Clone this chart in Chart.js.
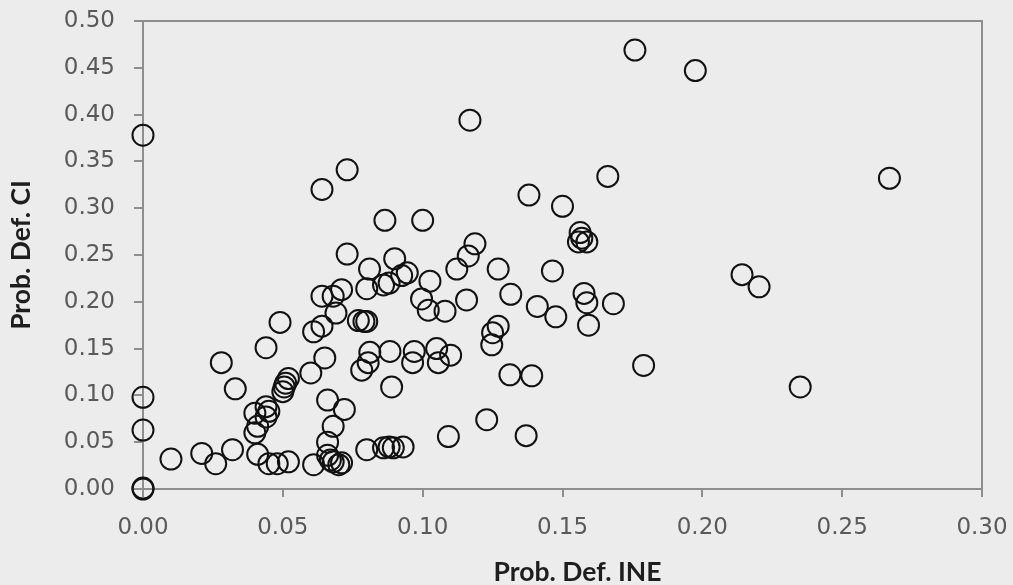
<!DOCTYPE html>
<html>
<head>
<meta charset="utf-8">
<script src="https://cdn.jsdelivr.net/npm/chart.js@4/dist/chart.umd.min.js"></script>
<style>
  html, body { margin: 0; padding: 0; background: #ececec; }
  canvas { display: block; }
</style>
</head>
<body>
<canvas id="scatter" width="1013" height="585"></canvas>
<script>
// default probability per unit: INE estimate (x) vs CI estimate (y)
const probIne = [
  0, 0, 0, 0, 0,
  0.010, 0.021, 0.026, 0.032, 0.028, 0.033, 0.044, 0.049,
  0.041, 0.040, 0.041, 0.040, 0.044, 0.045, 0.044,
  0.050, 0.0505, 0.051, 0.052, 0.045, 0.048, 0.052,
  0.060, 0.061, 0.061, 0.064, 0.064, 0.073,
  0.065, 0.066, 0.072, 0.068, 0.066, 0.066, 0.067, 0.068, 0.070, 0.071,
  0.080, 0.086, 0.088, 0.0895, 0.093,
  0.064, 0.068, 0.071, 0.069, 0.077, 0.079, 0.080,
  0.073, 0.081, 0.080, 0.086, 0.088, 0.090, 0.0925, 0.0945,
  0.0865, 0.100, 0.1026, 0.0996, 0.102, 0.108, 0.1157,
  0.1187, 0.1163, 0.1122, 0.127, 0.1315, 0.141, 0.1476, 0.1464,
  0.1577, 0.1587, 0.1682, 0.1593, 0.127, 0.125, 0.1247,
  0.138, 0.150, 0.1662, 0.1563, 0.1569, 0.1587, 0.1557,
  0.1759, 0.1975, 0.2669, 0.2142, 0.2203, 0.235, 0.179,
  0.1312, 0.139, 0.1229, 0.137, 0.1092, 0.0889,
  0.0782, 0.0805, 0.0811, 0.0883, 0.097, 0.0964, 0.105, 0.1056, 0.110,
  0.1169
];
const probCi = [
  0, 0.001, 0.063, 0.098, 0.378,
  0.032, 0.038, 0.027, 0.042, 0.135, 0.107, 0.151, 0.178,
  0.037, 0.060, 0.067, 0.081, 0.088, 0.083, 0.077,
  0.104, 0.109, 0.113, 0.118, 0.027, 0.027, 0.029,
  0.124, 0.026, 0.168, 0.174, 0.320, 0.341,
  0.140, 0.095, 0.085, 0.067, 0.050, 0.036, 0.031, 0.029, 0.026, 0.028,
  0.042, 0.044, 0.045, 0.044, 0.045,
  0.206, 0.206, 0.213, 0.188, 0.180, 0.179, 0.179,
  0.251, 0.235, 0.214, 0.218, 0.220, 0.246, 0.228, 0.231,
  0.287, 0.287, 0.222, 0.203, 0.191, 0.190, 0.202,
  0.262, 0.249, 0.235, 0.235, 0.208, 0.195, 0.184, 0.233,
  0.209, 0.199, 0.198, 0.175, 0.174, 0.167, 0.154,
  0.314, 0.302, 0.334, 0.274, 0.268, 0.264, 0.264,
  0.469, 0.447, 0.332, 0.229, 0.216, 0.109, 0.132,
  0.122, 0.121, 0.074, 0.057, 0.056, 0.109,
  0.127, 0.135, 0.146, 0.147, 0.147, 0.135, 0.150, 0.135, 0.143,
  0.394
];

const xTicks = [0, 0.05, 0.10, 0.15, 0.20, 0.25, 0.30];
const yTicks = [0, 0.05, 0.10, 0.15, 0.20, 0.25, 0.30, 0.35, 0.40, 0.45, 0.50];
const xTitle = 'Prob. Def. INE';
const yTitle = 'Prob. Def. CI';

const axisGrey = '#8e8e8e';
const tickFont = { family: 'DejaVu Sans', size: 23 };
const titleFont = { family: 'Lato', size: 26.5, weight: 'bold' };

// thin frame on top and right of the plot area, plus the x title
// (which sits a little right of the plot centre)
const frame = {
  id: 'frame',
  beforeDatasetsDraw(chart) {
    const { ctx, chartArea: a } = chart;
    ctx.save();
    ctx.strokeStyle = axisGrey;
    ctx.lineWidth = 2;
    ctx.beginPath();
    ctx.moveTo(a.left, a.top);
    ctx.lineTo(a.right, a.top);
    ctx.lineTo(a.right, a.bottom);
    ctx.stroke();
    ctx.font = `bold ${titleFont.size}px ${titleFont.family}`;
    ctx.fillStyle = '#1e1e1e';
    ctx.textAlign = 'center';
    ctx.textBaseline = 'middle';
    ctx.fillText(xTitle, (a.left + a.right) / 2 + 15, a.bottom + 83);
    ctx.restore();
  }
};

new Chart(document.getElementById('scatter'), {
  type: 'scatter',
  data: {
    datasets: [{
      data: probIne.map((x, i) => ({ x, y: probCi[i] })),
      pointStyle: 'circle',
      pointRadius: 10.5,
      pointHoverRadius: 10.5,
      borderWidth: 2,
      borderColor: '#111',
      backgroundColor: 'rgba(0,0,0,0)',
      clip: false
    }]
  },
  options: {
    responsive: false,
    animation: false,
    layout: { autoPadding: false, padding: { top: 21, right: 31, left: 0, bottom: 0 } },
    plugins: { legend: { display: false }, tooltip: { enabled: false } },
    scales: {
      x: {
        min: 0, max: 0.30,
        afterBuildTicks: (s) => { s.ticks = xTicks.map(v => ({ value: v })); },
        afterFit: (s) => { s.height = 96; s.paddingLeft = 0; s.paddingRight = 0; },
        grid: { drawOnChartArea: false, color: axisGrey, tickLength: 8, lineWidth: 2 },
        border: { color: axisGrey, width: 2 },
        ticks: {
          font: tickFont, color: '#595959', padding: 17, maxRotation: 0,
          callback: (v) => v.toFixed(2)
        },
        title: { display: false }
      },
      y: {
        min: 0, max: 0.50,
        afterBuildTicks: (s) => { s.ticks = yTicks.map(v => ({ value: v })); },
        afterFit: (s) => { s.width = 143; s.paddingTop = 0; s.paddingBottom = 0; },
        grid: { drawOnChartArea: false, color: axisGrey, tickLength: 9, lineWidth: 2 },
        border: { color: axisGrey, width: 2 },
        ticks: {
          font: tickFont, color: '#595959', padding: 19,
          callback: (v) => v.toFixed(2)
        },
        title: {
          display: true, text: yTitle, color: '#1e1e1e',
          font: titleFont, padding: { top: 6, bottom: 0 }
        }
      }
    }
  },
  plugins: [frame]
});
</script>
</body>
</html>
